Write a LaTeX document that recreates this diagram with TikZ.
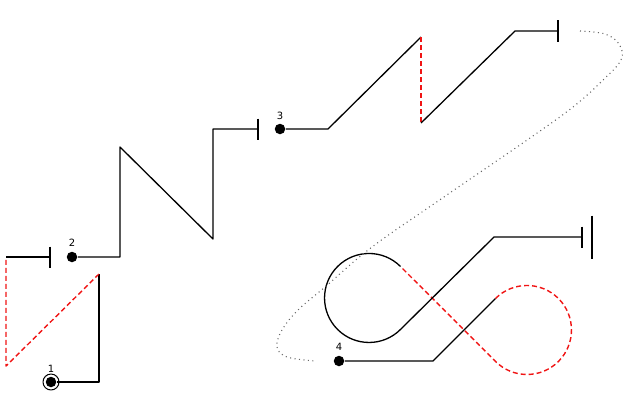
\documentclass[tikz,border=0pt]{standalone}
\usepackage{fontspec}
\setmainfont{DejaVu Sans}
\begin{document}
\begin{tikzpicture}[x=1pt, y=-1pt, line width=1.3pt, line join=round]
  \definecolor{revred}{RGB}{240,20,20}
  \tikzset{
    wpoint/.style={circle, fill=black, inner sep=0pt, minimum size=10.5pt},
    wlabel/.style={font=\fontsize{10}{11}\selectfont, inner sep=0pt},
    reverse/.style={revred, line width=1.4pt, dash pattern=on 5pt off 3pt},
    guide/.style={black!60, line width=1.1pt, dash pattern=on 1pt off 3.5pt},
  }
  \useasboundingbox (0,0) rectangle (631,402);
  % waypoints
  \node[wpoint] (pt1) at (51,382) {};
  \node[wpoint] (pt2) at (72,257) {};
  \node[wpoint] (pt3) at (280,129) {};
  \node[wpoint] (pt4) at (339,361) {};
  \draw[line width=1pt] (pt1.center) circle[radius=8];
  \node[wlabel] (lab1) at (51,369) {1};
  \node[wlabel] (lab2) at (72,243) {2};
  \node[wlabel] (lab3) at (280,116) {3};
  \node[wlabel] (lab4) at (339,347) {4};
  % corners
  \coordinate (a1) at (99,382);  \coordinate (a2) at (99,274);
  \coordinate (a3) at (6,366);   \coordinate (a4) at (6,257);
  \coordinate (end1) at (50,257);
  \coordinate (b1) at (120,257); \coordinate (b2) at (120,147);
  \coordinate (b3) at (213,239); \coordinate (b4) at (213,129);
  \coordinate (end2) at (258,129);
  \coordinate (c1) at (328,129); \coordinate (c2) at (421,37);
  \coordinate (c3) at (421,123); \coordinate (c4) at (515,31);
  \coordinate (end3) at (558,31);
  \coordinate (d1) at (433,361); \coordinate (d2) at (495.5,298.5);
  \coordinate (d3) at (400.5,266.5); \coordinate (d4) at (494,237);
  \coordinate (end4) at (582,237);
  % leg 1
  \draw (pt1) -- (a1) -- (a2);
  \draw[reverse] (a2) -- (a3) -- (a4);
  \draw (a4) -- (end1);
  \draw (end1) ++(0,-10.5) -- ++(0,21);
  % leg 2
  \draw (pt2) -- (b1) -- (b2) -- (b3) -- (b4) -- (end2);
  \draw (end2) ++(0,-10.5) -- ++(0,21);
  % leg 3
  \draw (pt3) -- (c1) -- (c2);
  \draw[reverse] (c2) -- (c3);
  \draw (c3) -- (c4) -- (end3);
  \draw (end3) ++(0,-11) -- ++(0,22);
  % leg 4
  \draw (pt4) -- (d1) -- (d2);
  \draw[reverse] (d2) arc[start angle=225, end angle=495, radius=44.5] -- (d3);
  \draw (d3) arc[start angle=315, end angle=45, radius=44.5] -- (d4) -- (end4);
  \draw (end4) ++(0,-10.5) -- ++(0,21);
  \draw (end4) ++(10,-21.5) -- ++(0,43);
  % guide curve
  \draw[guide] plot[smooth, tension=0.6] coordinates {(580,31) (605,34) (619,44)
    (621,60) (601,82) (573,107) (530,138) (441,199) (372,247) (325,287)
    (298,310) (282,330) (277,347) (287,357) (315,361)};
\end{tikzpicture}
\end{document}
